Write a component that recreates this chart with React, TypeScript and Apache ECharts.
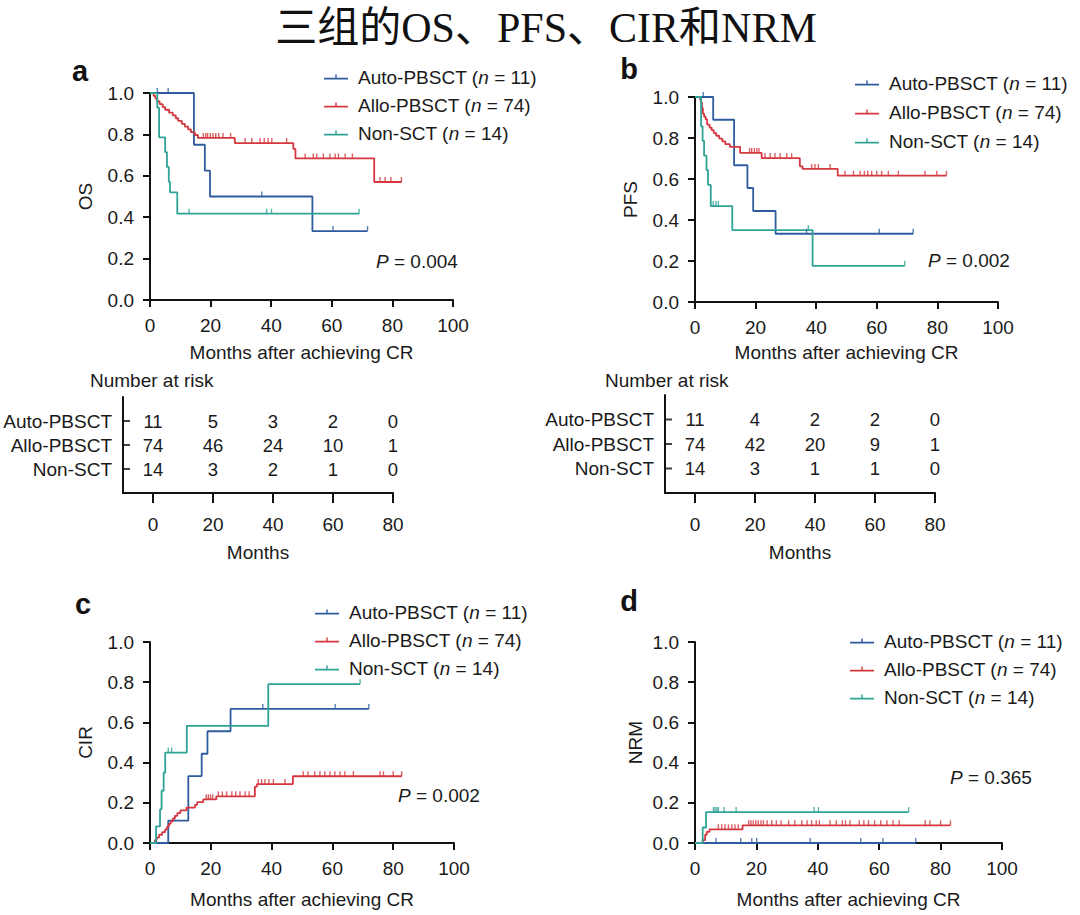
import React, { useEffect, useRef } from "react";
import * as echarts from "echarts";

// ---------- data ----------
const groups = ["Auto-PBSCT", "Allo-PBSCT", "Non-SCT"];
const groupN = [11, 74, 14];
const colors = ["#2f5c9e", "#d4383e", "#2ea396"];

// OS (step points: [months, value after event])
const osAuto = [[0, 1], [14.5, 0.75], [18.1, 0.625], [19.8, 0.5], [53.6, 0.333], [71.8, 0.333]];
const osAutoCens = [2.4, 6.0, 36.9, 60.4, 71.8];
const osAllo = [[0, 1], [1.2, 0.986], [1.8, 0.973], [2.4, 0.959], [3.2, 0.946], [4.2, 0.932], [5.0, 0.919], [6.3, 0.905], [7.5, 0.892], [8.5, 0.878], [9.3, 0.865], [10.5, 0.851], [11.5, 0.838], [12.6, 0.824], [13.5, 0.811], [14.8, 0.797], [15.8, 0.783], [28.0, 0.758], [47.3, 0.73], [48.0, 0.684], [74.0, 0.57], [83, 0.57]];
const osAlloCens = [17.6, 18.4, 19.0, 19.9, 20.8, 21.7, 22.7, 24.1, 26.6, 31.4, 33.6, 36.3, 37.7, 39.0, 40.2, 45.1, 51.2, 53.9, 55.0, 57.2, 59.4, 61.1, 62.2, 64.4, 66.8, 75.9, 77.6, 79.5, 83];
const osNon = [[0, 1], [2.4, 0.929], [3.0, 0.786], [5.0, 0.714], [5.6, 0.643], [6.2, 0.571], [6.6, 0.52], [9.0, 0.417], [69.0, 0.417]];
const osNonCens = [12.9, 38.5, 40.1, 69.0];

// PFS
const pfsAuto = [[0, 1], [6.0, 0.889], [12.9, 0.667], [17.3, 0.556], [19.2, 0.444], [26.6, 0.333], [72, 0.333]];
const pfsAutoCens = [2.7, 36.8, 60.8, 72];
const pfsAllo = [[0, 1], [1.7, 0.986], [2.0, 0.973], [2.3, 0.946], [2.6, 0.919], [3.0, 0.905], [3.5, 0.892], [4.0, 0.865], [4.8, 0.851], [5.5, 0.838], [6.2, 0.824], [7.0, 0.811], [8.0, 0.797], [9.0, 0.784], [10.0, 0.77], [11.5, 0.757], [14.9, 0.727], [22, 0.702], [34.6, 0.662], [35.5, 0.649], [47.1, 0.616], [83, 0.616]];
const pfsAlloCens = [18, 18.7, 19.6, 20.4, 21.1, 23.1, 24.8, 26.4, 28.1, 30.3, 31.9, 38.5, 39.6, 40.7, 44.6, 49.5, 52.3, 54.5, 55.9, 57.0, 58.3, 60, 61.6, 63.8, 67.1, 75.9, 79.8, 83];
const pfsNon = [[0, 1], [2.0, 0.857], [2.5, 0.786], [3.0, 0.714], [3.8, 0.643], [4.3, 0.571], [5.2, 0.468], [12.3, 0.351], [38.8, 0.176], [69.2, 0.176]];
const pfsNonCens = [6.0, 6.9, 7.7, 37.4, 69.2];

// CIR
const cirAuto = [[0, 0], [6.0, 0.111], [12.6, 0.333], [17.0, 0.444], [18.9, 0.556], [26.5, 0.667], [72, 0.667]];
const cirAutoCens = [37.1, 60.9, 72];
const cirAllo = [[0, 0], [1.6, 0.014], [2.2, 0.027], [3.0, 0.041], [4.0, 0.054], [5.0, 0.068], [5.6, 0.081], [6.2, 0.095], [6.8, 0.108], [7.5, 0.122], [8.2, 0.135], [9.0, 0.149], [10.0, 0.162], [12.0, 0.176], [14.8, 0.19], [15.5, 0.203], [17.5, 0.217], [21.8, 0.232], [34.5, 0.28], [35.2, 0.293], [47.0, 0.332], [82.8, 0.332]];
const cirAlloCens = [18.5, 19.2, 19.9, 20.6, 22.5, 23.8, 25.2, 26.9, 28.2, 29.6, 31.3, 32.6, 35.6, 36.7, 37.8, 39.1, 40.6, 44.4, 50.4, 52.0, 54.2, 55.9, 57.5, 59.2, 60.8, 62.5, 64.1, 66.9, 75.7, 76.8, 80.0, 82.8];
const cirNon = [[0, 0], [2.0, 0.083], [3.3, 0.167], [3.8, 0.26], [4.5, 0.35], [5.0, 0.45], [12.1, 0.583], [38.9, 0.79], [69.1, 0.79]];
const cirNonCens = [6.0, 7.1, 69.1];

// NRM
const nrmAuto = [[0, 0], [71.9, 0]];
const nrmAutoCens = [6.8, 14.9, 18.5, 20.1, 37.5, 54, 61.2, 71.9];
const nrmAllo = [[0, 0], [2.5, 0.014], [3.3, 0.041], [3.8, 0.055], [4.7, 0.068], [15.5, 0.088], [83.2, 0.088]];
const nrmAlloCens = [7.6, 8.7, 9.8, 10.9, 12.0, 13.0, 14.1, 17.5, 18.2, 19.0, 19.8, 20.6, 21.5, 22.3, 23.5, 25, 26.5, 28, 30.5, 32.5, 34.8, 36.5, 38, 39.5, 40.5, 44, 46, 48, 49, 50.5, 53.5, 55, 56.5, 58.5, 60.5, 62.5, 64.5, 66.5, 75, 76.5, 80, 83.2];
const nrmNon = [[0, 0], [2.5, 0.077], [3.6, 0.154], [69.6, 0.154]];
const nrmNonCens = [6.0, 6.5, 7.1, 7.6, 9.5, 13.4, 38.8, 40.2, 69.6];

// Number at risk
const riskTimes = [0, 20, 40, 60, 80];
const riskRows = [1, 2, 3];
const riskOsAuto = [11, 5, 3, 2, 0];
const riskOsAllo = [74, 46, 24, 10, 1];
const riskOsNon = [14, 3, 2, 1, 0];
const riskPfsAuto = [11, 4, 2, 2, 0];
const riskPfsAllo = [74, 42, 20, 9, 1];
const riskPfsNon = [14, 3, 1, 1, 0];

const panels = [
  { yName: "OS", curves: [osAuto, osAllo, osNon], cens: [osAutoCens, osAlloCens, osNonCens], p: "0.004" },
  { yName: "PFS", curves: [pfsAuto, pfsAllo, pfsNon], cens: [pfsAutoCens, pfsAlloCens, pfsNonCens], p: "0.002" },
  { yName: "CIR", curves: [cirAuto, cirAllo, cirNon], cens: [cirAutoCens, cirAlloCens, cirNonCens], p: "0.002" },
  { yName: "NRM", curves: [nrmAuto, nrmAllo, nrmNon], cens: [nrmAutoCens, nrmAlloCens, nrmNonCens], p: "0.365" },
];
const riskTables = [
  [riskOsAuto, riskOsAllo, riskOsNon],
  [riskPfsAuto, riskPfsAllo, riskPfsNon],
];

// ---------- layout ----------
const FONT = '"Liberation Sans", Arial, Helvetica, sans-serif';
const TXT = "#1a1a1a";
const AX = "#111";

const kmLayout = [
  { grid: { left: 150, top: 93, width: 303, height: 207 }, yGap: 55, xGap: 43, legend: { left: 319, top: 61, gap: 6 }, pPos: [376, 261], letter: ["a", 80, 71] },
  { grid: { left: 695, top: 97, width: 303, height: 205 }, yGap: 55, xGap: 41, legend: { left: 850, top: 67, gap: 7 }, pPos: [928, 260], letter: ["b", 629, 69] },
  { grid: { left: 150, top: 642, width: 304, height: 201 }, yGap: 55, xGap: 47, legend: { left: 310, top: 596, gap: 6 }, pPos: [398, 795], letter: ["c", 83, 604] },
  { grid: { left: 695, top: 642, width: 307, height: 201 }, yGap: 50, xGap: 47, legend: { left: 845, top: 625, gap: 6 }, pPos: [950, 777], letter: ["d", 629, 601] },
];
const riskLayout = [
  { grid: { left: 123, top: 397, width: 270, height: 96 }, title: [90, 380] },
  { grid: { left: 665, top: 395, width: 270, height: 98 }, title: [605, 380] },
];

const legendIcon = "path://M0,3.2 L24,3.2 L24,4.8 L0,4.8 Z M11.3,0 L12.7,0 L12.7,3.2 L11.3,3.2 Z";

function stepValueAt(steps: number[][], t: number) {
  let v = steps[0][1];
  for (const [x, y] of steps) if (x <= t) v = y;
  return v;
}

function buildOption() {
  const grid: any[] = [];
  const xAxis: any[] = [];
  const yAxis: any[] = [];
  const series: any[] = [];
  const legend: any[] = [];
  const graphic: any[] = [];

  const axisLine = { show: true, onZero: false, lineStyle: { color: AX, width: 2 } };
  const labelStyle = { color: TXT, fontSize: 19, fontFamily: FONT };

  kmLayout.forEach((L, p) => {
    const P = panels[p];
    grid.push({ ...L.grid, containLabel: false });
    xAxis.push({
      gridIndex: p, type: "value", min: 0, max: 100, interval: 20,
      axisLine, axisTick: { show: true, length: 7, lineStyle: { color: AX, width: 2 } },
      axisLabel: { ...labelStyle, margin: 16 }, splitLine: { show: false },
      name: "Months after achieving CR", nameLocation: "middle", nameGap: L.xGap,
      nameTextStyle: { ...labelStyle },
    });
    yAxis.push({
      gridIndex: p, type: "value", min: 0, max: 1, interval: 0.2,
      axisLine, axisTick: { show: true, length: 7, lineStyle: { color: AX, width: 2 } },
      axisLabel: { ...labelStyle, margin: 16, formatter: (v: number) => v.toFixed(1) },
      splitLine: { show: false },
      name: P.yName, nameLocation: "middle", nameGap: L.yGap, nameTextStyle: { ...labelStyle },
    });
    P.curves.forEach((c, g) => {
      series.push({
        type: "line", name: groups[g], xAxisIndex: p, yAxisIndex: p, data: c,
        step: "end", symbol: "none", clip: false, z: 3,
        lineStyle: { color: colors[g], width: 1.8 }, itemStyle: { color: colors[g] },
      });
    });
    P.cens.forEach((cs, g) => {
      series.push({
        type: "scatter", name: groups[g], xAxisIndex: p, yAxisIndex: p,
        data: cs.map((t) => [t, stepValueAt(P.curves[g], t)]),
        symbol: "rect", symbolSize: [1.4, 5], symbolOffset: [0, -2.5], clip: false, z: 4,
        itemStyle: { color: colors[g] }, silent: true,
      });
    });
    legend.push({
      orient: "vertical", left: L.legend.left, top: L.legend.top, itemGap: L.legend.gap,
      itemWidth: 24, itemHeight: 5, icon: legendIcon, selectedMode: false,
      data: groups,
      formatter: (name: string) => `{t|${name} (}{i|n}{t| = ${groupN[groups.indexOf(name)]})}`,
      textStyle: {
        ...labelStyle, lineHeight: 22, padding: [0, 0, 0, 5],
        rich: {
          t: { ...labelStyle, lineHeight: 22 },
          i: { ...labelStyle, lineHeight: 22, fontStyle: "italic" },
        },
      },
    });
    graphic.push({
      type: "text", x: L.pPos[0], y: L.pPos[1],
      style: {
        text: `{i|P}{t| = ${P.p}}`, verticalAlign: "middle",
        rich: {
          i: { fontSize: 19, fontFamily: FONT, fill: TXT, fontStyle: "italic" },
          t: { fontSize: 19, fontFamily: FONT, fill: TXT },
        },
      },
    });
    graphic.push({
      type: "text", x: L.letter[1], y: L.letter[2],
      style: { text: L.letter[0], fontSize: 29, fontWeight: "bold", fontFamily: FONT, fill: "#111", align: "center", verticalAlign: "middle" },
    });
  });

  riskLayout.forEach((L, r) => {
    const idx = 4 + r;
    grid.push({ ...L.grid });
    xAxis.push({
      gridIndex: idx, type: "value", min: -10, max: 80,
      axisLine, axisTick: { show: true, length: 10, customValues: riskTimes, lineStyle: { color: AX, width: 2 } },
      axisLabel: { ...labelStyle, margin: 22, customValues: riskTimes }, splitLine: { show: false },
      name: "Months", nameLocation: "middle", nameGap: 50, nameTextStyle: { ...labelStyle },
    });
    yAxis.push({
      gridIndex: idx, type: "value", min: 0, max: 4, inverse: true,
      axisLine, axisTick: { show: false },
      axisLabel: { ...labelStyle, fontSize: 19, margin: 11, customValues: riskRows, formatter: (v: number) => groups[v - 1] || "" },
      splitLine: { show: false },
    });
    // row ticks on the risk-table axis
    series.push({
      type: "scatter", xAxisIndex: idx, yAxisIndex: idx, silent: true, clip: false, z: 5,
      data: riskRows.map((row) => [-10, row]),
      symbol: "rect", symbolSize: [7, 2], symbolOffset: [3.5, 0],
      itemStyle: { color: AX },
    });
    const data: any[] = [];
    riskTables[r].forEach((row, g) => {
      row.forEach((n, i) => data.push([riskTimes[i], riskRows[g], n]));
    });
    series.push({
      type: "scatter", xAxisIndex: idx, yAxisIndex: idx, data, symbolSize: 1, silent: true, clip: false,
      itemStyle: { color: "rgba(0,0,0,0)" },
      label: {
        show: true, position: "inside", formatter: (p: any) => String(p.value[2]),
        color: TXT, fontSize: 18.5, fontFamily: FONT, textBorderWidth: 0, opacity: 1,
      },
    });
    graphic.push({
      type: "text", x: L.title[0], y: L.title[1],
      style: { text: "Number at risk", fontSize: 19, fontFamily: FONT, fill: TXT, verticalAlign: "middle" },
    });
  });

  graphic.push({
    type: "text", x: 546, y: 28,
    style: {
      text: "三组的OS、PFS、CIR和NRM", fontSize: 42,
      fontFamily: '"Liberation Serif", "Noto Sans CJK SC", serif', fill: "#111",
      align: "center", verticalAlign: "middle",
    },
  });

  return {
    animation: false,
    backgroundColor: "#ffffff",
    textStyle: { fontFamily: FONT },
    grid, xAxis, yAxis, series, legend, graphic,
  };
}

export default function App() {
  const ref = useRef<HTMLDivElement>(null);
  useEffect(() => {
    if (!ref.current) return;
    const chart = echarts.init(ref.current, undefined, { renderer: "svg" });
    chart.setOption(buildOption() as any);
    return () => chart.dispose();
  }, []);
  return (
    <div
      ref={ref}
      style={{ position: "absolute", left: 0, top: 0, width: 1080, height: 915, background: "#fff" }}
    />
  );
}
